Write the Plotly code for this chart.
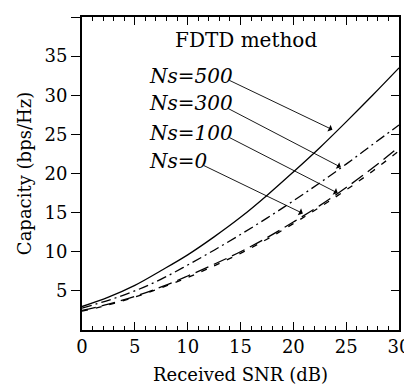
import plotly.graph_objects as go

snr = [0, 2.5, 5, 7.5, 10, 12.5, 15, 17.5, 20, 22.5, 25, 27.5, 30]
cap_ns500 = [3.0, 4.2, 5.7, 7.6, 9.6, 11.9, 14.4, 17.2, 20.2, 23.3, 26.6, 30.0, 33.5]
cap_ns300 = [2.8, 3.8, 5.0, 6.5, 8.3, 10.2, 12.2, 14.3, 16.5, 18.8, 21.2, 23.7, 26.2]
cap_ns100 = [2.5, 3.3, 4.3, 5.5, 6.9, 8.4, 10.0, 11.8, 13.8, 15.9, 18.2, 20.7, 23.4]
cap_ns0 = [2.4, 3.2, 4.2, 5.4, 6.7, 8.2, 9.8, 11.6, 13.6, 15.7, 17.9, 20.3, 22.9]

labels = ["Ns=500", "Ns=300", "Ns=100", "Ns=0"]
label_y = [32.4, 29.0, 25.2, 21.6]
arrow_tail = [(13.8, 32.0), (13.7, 28.4), (13.8, 24.7), (11.4, 21.1)]
arrow_head = [(23.7, 25.6), (24.5, 20.8), (24.2, 17.5), (20.9, 14.9)]

FONT = "DejaVu Serif"

fig = go.Figure()
styles = [
    (cap_ns500, "solid"),
    (cap_ns300, "10px,4px,2px,4px"),
    (cap_ns100, "14px,6px"),
    (cap_ns0, "6px,8px"),
]
for vals, dash in styles:
    fig.add_trace(go.Scatter(x=snr, y=vals, mode="lines",
                             line=dict(color="black", width=1.3, dash=dash, shape="spline"),
                             showlegend=False, hoverinfo="skip"))
# dummy trace for right axis
fig.add_trace(go.Scatter(x=[0], y=[0], yaxis="y2", mode="lines",
                         line=dict(color="rgba(0,0,0,0)"), showlegend=False, hoverinfo="skip"))

annotations = [dict(x=15.5, y=37.0, xref="x", yref="y", text="FDTD method", showarrow=False,
                    font=dict(family=FONT, size=20, color="black"))]
for lab, ly in zip(labels, label_y):
    annotations.append(dict(x=6.15, y=ly, xref="x", yref="y", xanchor="left",
                            text="<i>%s</i>" % lab, showarrow=False,
                            font=dict(family=FONT, size=20, color="black")))
for (tx, ty), (hx, hy) in zip(arrow_tail, arrow_head):
    annotations.append(dict(x=hx, y=hy, ax=tx, ay=ty, xref="x", yref="y", axref="x", ayref="y",
                            text="", showarrow=True, arrowhead=1, arrowsize=1.4,
                            arrowwidth=0.9, arrowcolor="black"))

# page body has an 8px default margin, so the figure is sized 8px smaller
fig.update_layout(
    width=404, height=384,
    margin=dict(l=74, r=13, t=9, b=62),
    paper_bgcolor="white", plot_bgcolor="white",
    font=dict(family=FONT, size=18, color="black"),
    xaxis=dict(range=[0, 30], tickvals=[0, 5, 10, 15, 20, 25, 30], ticks="inside", ticklen=8,
               tickwidth=1, tickcolor="black", showline=True, linecolor="black", linewidth=1.5,
               mirror="ticks", showgrid=False, zeroline=False, automargin=False,
               minor=dict(dtick=1, ticks="inside", ticklen=4, tickcolor="black", tickwidth=1, showgrid=False),
               title=dict(text="Received SNR (dB)", standoff=12, font=dict(family=FONT, size=18)),
               tickfont=dict(family=FONT, size=18)),
    yaxis=dict(range=[0, 40], tickvals=[5, 10, 15, 20, 25, 30, 35, 40], ticks="outside", ticklen=9,
               tickwidth=1, tickcolor="black", showline=True, linecolor="black", linewidth=1.8,
               showgrid=False, zeroline=False, automargin=False,
               title=dict(text="Capacity (bps/Hz)", standoff=8, font=dict(family=FONT, size=18)),
               tickfont=dict(family=FONT, size=18)),
    yaxis2=dict(range=[0, 40], tickvals=[5, 10, 15, 20, 25, 30, 35], overlaying="y", side="right",
                ticks="inside", ticklen=8, tickcolor="black", showline=True, linecolor="black",
                linewidth=1.5, showticklabels=False, showgrid=False, zeroline=False, automargin=False),
    annotations=annotations,
)

fig.write_html("out.html")
